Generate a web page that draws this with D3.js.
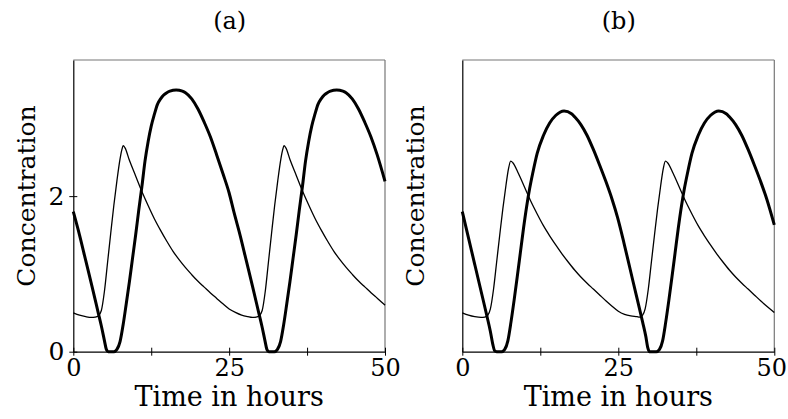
<!DOCTYPE html>
<html>
<head>
<meta charset="utf-8">
<script src="https://cdn.jsdelivr.net/npm/d3@7"></script>
<style>
  body { margin: 0; background: #fff; }
  text { font-family: "DejaVu Serif", serif; fill: #000; }
</style>
</head>
<body>
<script>
const width = 788;
const height = 419;

// time axis and ticks
const X_DOMAIN = [0, 50];
const Y_DOMAIN = [0, 3.75];
const X_TICKS = [0, 12.5, 25, 37.5, 50];
const X_LABELS = ["0", "", "25", "", "50"];
const Y_TICKS = [0, 2];
const Y_LABELS = ["0", "2"];
const PANEL_TITLES = ["(a)", "(b)"];

// panel (a) : [time, concentration]
const thickA = [[0,1.80],[1,1.50],[2,1.17],[3,0.84],[4,0.50],[4.5,0.33],[5,0.14],[5.3,0.03],[5.6,0],[6.5,0],[7,0.03],[7.5,0.13],[8,0.35],[8.5,0.62],[9,0.9],[9.5,1.2],[10,1.5],[10.5,1.82],[11,2.12],[11.5,2.45],[12,2.7],[12.5,2.9],[13,3.05],[13.5,3.18],[14,3.25],[14.5,3.3],[15,3.33],[15.5,3.35],[16.5,3.365],[17.5,3.35],[18,3.33],[19,3.25],[20,3.12],[21,2.95],[22,2.76],[23,2.53],[24,2.29],[25,2.04],[25.75,1.80],[26.75,1.50],[27.75,1.17],[28.75,0.84],[29.75,0.50],[30.25,0.33],[30.75,0.14],[31.05,0.03],[31.35,0],[32.25,0],[32.75,0.03],[33.25,0.13],[33.75,0.35],[34.25,0.62],[34.75,0.9],[35.25,1.2],[35.75,1.5],[36.25,1.82],[36.75,2.12],[37.25,2.45],[37.75,2.7],[38.25,2.9],[38.75,3.05],[39.25,3.18],[39.75,3.25],[40.25,3.3],[40.75,3.33],[41.25,3.35],[42.25,3.365],[43.25,3.35],[43.75,3.33],[44.75,3.25],[45.75,3.12],[46.75,2.95],[47.75,2.76],[48.75,2.53],[50,2.19]];

const thinA = [[0,0.50],[1,0.47],[2,0.45],[2.9,0.44],[3.5,0.445],[4,0.46],[4.5,0.53],[5,0.78],[5.5,1.15],[6,1.52],[6.5,1.88],[7,2.2],[7.5,2.48],[7.8,2.6],[8,2.65],[8.3,2.62],[9,2.46],[10,2.26],[11,2.06],[12,1.88],[13,1.71],[14,1.56],[15,1.42],[16,1.29],[17,1.18],[18,1.08],[19,0.99],[20,0.905],[21,0.83],[22,0.755],[23,0.685],[24,0.615],[25,0.55],[26,0.505],[27,0.47],[28,0.45],[28.7,0.44],[29.3,0.445],[29.8,0.46],[30.3,0.53],[30.8,0.78],[31.3,1.15],[31.8,1.52],[32.3,1.88],[32.8,2.2],[33.3,2.48],[33.6,2.6],[33.8,2.65],[34.1,2.62],[34.8,2.46],[35.8,2.26],[36.8,2.06],[37.8,1.88],[38.8,1.71],[39.8,1.56],[40.8,1.42],[41.8,1.29],[42.8,1.18],[43.8,1.08],[44.8,0.99],[45.8,0.905],[46.8,0.83],[47.8,0.755],[48.8,0.685],[50,0.598]];

// panel (b)
const thickB = [[0,1.80],[1,1.46],[2,1.12],[3,0.78],[4,0.44],[4.5,0.26],[4.9,0.09],[5.2,0.01],[5.5,0],[6.3,0],[6.8,0.03],[7.3,0.14],[7.8,0.38],[8.3,0.66],[8.8,0.96],[9.3,1.27],[9.8,1.58],[10.3,1.86],[10.8,2.1],[11.3,2.3],[12,2.55],[13,2.78],[14,2.94],[15,3.04],[16.3,3.095],[17.5,3.06],[18,3.02],[19,2.92],[20,2.78],[21,2.6],[22,2.4],[23,2.19],[24,1.96],[24.9,1.72],[25.9,1.40],[26.9,1.06],[27.9,0.72],[28.9,0.38],[29.4,0.2],[29.7,0.06],[30.0,0],[31.1,0],[31.6,0.03],[32.1,0.14],[32.6,0.38],[33.1,0.66],[33.6,0.96],[34.1,1.27],[34.6,1.58],[35.1,1.86],[35.6,2.1],[36.1,2.3],[36.8,2.55],[37.8,2.78],[38.8,2.94],[39.8,3.04],[41.1,3.095],[42.3,3.06],[42.8,3.02],[43.8,2.92],[44.8,2.78],[45.8,2.6],[46.8,2.4],[47.8,2.19],[48.8,1.96],[50,1.63]];

const thinB = [[0,0.50],[1,0.47],[2,0.45],[3,0.44],[3.6,0.445],[4.1,0.47],[4.5,0.55],[5,0.8],[5.5,1.15],[6,1.5],[6.5,1.84],[7,2.14],[7.4,2.35],[7.75,2.45],[8.1,2.43],[9,2.29],[10,2.11],[11,1.93],[12,1.77],[13,1.62],[14,1.49],[15,1.37],[16,1.255],[17,1.15],[18,1.05],[19,0.96],[20,0.88],[21,0.805],[22,0.73],[23,0.655],[24,0.585],[25,0.52],[26,0.48],[27,0.46],[28,0.45],[28.4,0.445],[28.9,0.47],[29.3,0.55],[29.8,0.8],[30.3,1.15],[30.8,1.5],[31.3,1.84],[31.8,2.14],[32.2,2.35],[32.55,2.45],[32.9,2.43],[33.8,2.29],[34.8,2.11],[35.8,1.93],[36.8,1.77],[37.8,1.62],[38.8,1.49],[39.8,1.37],[40.8,1.255],[41.8,1.15],[42.8,1.05],[43.8,0.96],[44.8,0.88],[45.8,0.805],[46.8,0.73],[47.8,0.655],[48.8,0.585],[50,0.505]];

const TOP = 60;
const BOTTOM = 351.7;
const panels = [
  { left: 73.3, right: 385, thick: thickA, thin: thinA, yLabels: true },
  { left: 462.3, right: 774.3, thick: thickB, thin: thinB, yLabels: false }
];

const svg = d3.select("body")
  .append("svg")
  .attr("width", width)
  .attr("height", height);

panels.forEach(function (p, i) {
  const x = d3.scaleLinear().domain(X_DOMAIN).range([p.left, p.right]);
  const y = d3.scaleLinear().domain(Y_DOMAIN).range([BOTTOM, TOP]);
  const g = svg.append("g");

  const lineGen = d3.line()
    .x(function (d) { return x(d[0]); })
    .y(function (d) { return y(d[1]); })
    .curve(d3.curveMonotoneX);

  // frame: top and right lighter
  g.append("line").attr("x1", p.left).attr("x2", p.right).attr("y1", TOP).attr("y2", TOP)
    .attr("stroke", "#777").attr("stroke-width", 1.2);
  g.append("line").attr("x1", p.right).attr("x2", p.right).attr("y1", TOP).attr("y2", BOTTOM)
    .attr("stroke", "#777").attr("stroke-width", 1.2);

  g.append("path")
    .attr("d", lineGen(p.thin))
    .attr("fill", "none")
    .attr("stroke", "#000")
    .attr("stroke-width", 1.3);

  g.append("path")
    .attr("d", lineGen(p.thick))
    .attr("fill", "none")
    .attr("stroke", "#000")
    .attr("stroke-width", 3);

  // bottom axis, ticks crossing the line
  const xAxis = d3.axisBottom(x).tickValues(X_TICKS)
    .tickFormat(function (d, k) { return X_LABELS[k]; })
    .tickSizeInner(4).tickSizeOuter(0).tickPadding(3);
  const gx = g.append("g").attr("transform", "translate(0," + BOTTOM + ")").call(xAxis);
  gx.select(".domain").attr("stroke", "#000").attr("stroke-width", 1.2);
  gx.selectAll(".tick line").attr("y1", -4).attr("stroke", "#000");
  gx.selectAll(".tick text").attr("font-size", 24).attr("font-family", "DejaVu Serif")
    .attr("dy", "0.71em")
    .attr("dx", function (d) { return (i === 1 && d === 50) ? -3 : 0; });

  const yAxis = d3.axisLeft(y).tickValues(p.yLabels ? Y_TICKS : [])
    .tickFormat(function (d, k) { return Y_LABELS[k]; })
    .tickSizeInner(4).tickSizeOuter(0).tickPadding(5);
  const gy = g.append("g").attr("transform", "translate(" + p.left + ",0)").call(yAxis);
  gy.select(".domain").attr("stroke", "#000").attr("stroke-width", 1.2);
  gy.selectAll(".tick line").attr("x1", 4).attr("stroke", "#000");
  gy.selectAll(".tick text").attr("font-size", 25).attr("font-family", "DejaVu Serif");

  // titles and labels
  const cx = (p.left + p.right) / 2;
  svg.append("text")
    .attr("x", cx + 0.5)
    .attr("y", 29)
    .attr("text-anchor", "middle")
    .attr("font-size", 24)
    .text(PANEL_TITLES[i]);

  svg.append("text")
    .attr("x", cx)
    .attr("y", 406)
    .attr("text-anchor", "middle")
    .attr("font-size", 27)
    .text("Time in hours");

  svg.append("text")
    .attr("transform", "translate(" + (p.left - 38) + "," + 196 + ") rotate(-90)")
    .attr("text-anchor", "middle")
    .attr("font-size", 25)
    .text("Concentration");
});
</script>
</body>
</html>
